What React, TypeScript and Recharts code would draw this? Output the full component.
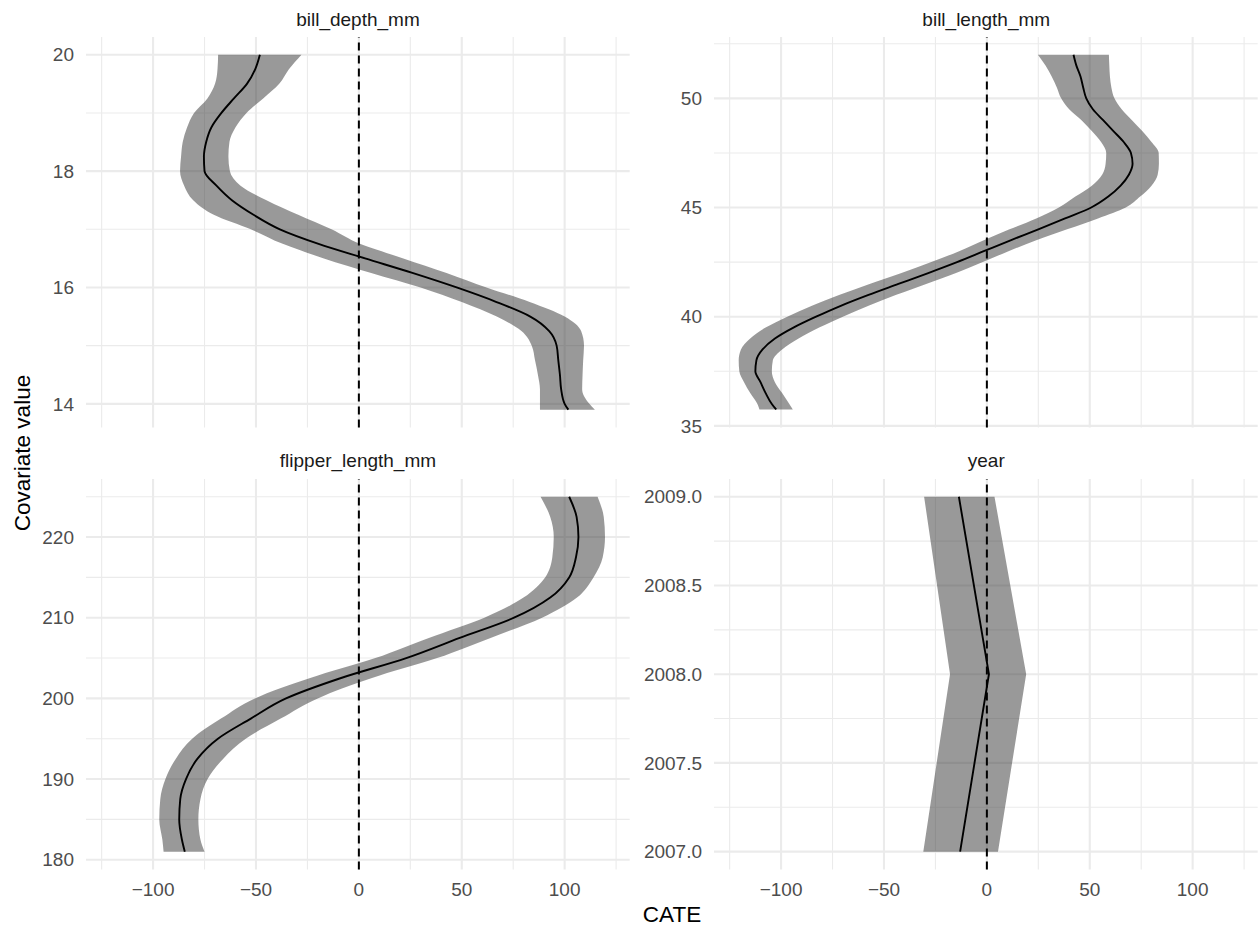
import React from "react";
import {
  ComposedChart,
  Area,
  Line,
  XAxis,
  YAxis,
  CartesianGrid,
  ReferenceLine,
} from "recharts";

const FONT = '"Liberation Sans", Arial, sans-serif';

// shared CATE axis
const cateTicks = [-100, -50, 0, 50, 100];
const cateMinor = [-125, -75, -25, 25, 75, 125];
const cateDomain: [number, number] = [-132.6, 131.6];

// bill_depth_mm
const depthY = [20.0, 19.75, 19.5, 19.25, 19.0, 18.75, 18.5, 18.25, 18.0, 17.75, 17.5, 17.25, 17.0, 16.75, 16.5, 16.25, 16.0, 15.75, 15.5, 15.25, 15.0, 14.75, 14.5, 14.25, 14.0, 13.9];
const depthMid = [-48.1, -50.4, -54.4, -60.7, -66.8, -71.7, -74.2, -75.3, -75.0, -69.2, -61.7, -51.2, -38.4, -19.6, 3, 26, 47.5, 66.9, 83.3, 92.5, 96.1, 96.9, 97.7, 98.3, 100, 101.8];
const depthLo = [-68.4, -68.7, -69.9, -73.6, -80.1, -83.5, -85.6, -86.4, -86.9, -84.9, -80.5, -70.5, -52.5, -37, -17, 6, 30, 50, 67, 79, 84, 85.6, 87, 88, 88, 88];
const depthHi = [-27.9, -34, -38.7, -46.5, -54.6, -60, -62.9, -63.4, -62.7, -57.5, -44.9, -29.5, -13.3, 0.5, 21.6, 42.6, 62, 83, 100, 108, 109.4, 109, 108.7, 108.5, 112, 114.7];
const depthTicks = [14, 16, 18, 20];
const depthMinor = [15, 17, 19];

// bill_length_mm
const lengthY = [52, 51.5, 51, 50.5, 50, 49.5, 49, 48.5, 48, 47.5, 47, 46.5, 46, 45.5, 45, 44.5, 44, 43.5, 43, 42.5, 42, 41.5, 41, 40.5, 40, 39.5, 39, 38.5, 38, 37.5, 37, 36.5, 36, 35.75];
const lengthMid = [42.1, 43.5, 45.5, 46.8, 48.3, 51.5, 56.5, 61.5, 66.5, 70, 70.8, 69, 65, 59, 50.7, 38, 25, 11.5, -1.5, -14.5, -28.5, -43, -57.5, -71, -83, -94, -103, -109, -112, -112.5, -110, -107.5, -104.5, -102.4];
const lengthLo = [24.8, 28.5, 31.5, 34, 36.1, 40, 46, 51, 55.5, 58, 57.7, 56, 51, 43, 35, 24, 11, -1.5, -13.5, -27, -41.5, -57, -71.5, -85, -97, -107.5, -115, -119.5, -120.6, -120.3, -118, -115, -111.5, -110.5];
const lengthHi = [59.3, 59.5, 59.8, 60.5, 62, 65.5, 70.5, 75.5, 80, 83.5, 83.6, 83, 80, 74.5, 67.5, 54, 39, 24, 10.5, -2, -15, -29.5, -44, -57.5, -70, -81.5, -91.5, -99.5, -104, -104.5, -103, -99.5, -96, -94.3];
const lengthTicks = [35, 40, 45, 50];
const lengthMinor = [37.5, 42.5, 47.5, 52.5];

// flipper_length_mm
const flipperY = [225, 222.5, 220, 217.5, 215, 212.5, 210, 207.5, 205, 202.5, 200, 197.5, 195, 192.5, 190, 187.5, 185, 182.5, 181];
const flipperMid = [102.2, 105.8, 106.7, 105.5, 102.2, 93, 75.4, 49, 23, -9, -35.4, -52.5, -68.5, -78.5, -84, -86.8, -87.3, -86, -84.6];
const flipperLo = [88.3, 93, 94.7, 94, 90.5, 80, 61, 34, 8, -24, -50.5, -67, -81, -89, -94, -96.5, -97, -95.5, -94.9];
const flipperHi = [116, 119, 119.6, 118.5, 114, 106, 89, 64, 38, 6, -20, -38, -55, -66, -73.5, -77, -78, -77, -75];
const flipperTicks = [180, 190, 200, 210, 220];
const flipperMinor = [185, 195, 205, 215, 225];

// year
const yearY = [2009, 2008, 2007];
const yearMid = [-13.6, 1.0, -13.0];
const yearLo = [-30.5, -17.9, -30.9];
const yearHi = [3.7, 19.1, 5.4];
const yearTicks = [2007, 2007.5, 2008, 2008.5, 2009];
const yearMinor = [2007.25, 2007.75, 2008.25, 2008.75];

function toRows(ys: number[], lo: number[], mid: number[], hi: number[]) {
  return ys.map((y, i) => ({ y, band: [lo[i], hi[i]], mid: mid[i] }));
}

const fmtMinus = (v: number) => (v < 0 ? "\u2212" + Math.abs(v) : String(v));

type PanelProps = {
  left: number;
  top: number;
  w: number;
  h: number;
  rows: { y: number; band: number[]; mid: number }[];
  yDomain: [number, number];
  yTicks: number[];
  yMinor: number[];
  yFmt?: (v: number) => string;
  showX: boolean;
  curve: "monotone" | "linear";
};

function Panel({ left, top, w, h, rows, yDomain, yTicks, yMinor, yFmt, showX, curve }: PanelProps) {
  const axisW = 100;
  const axisH = showX ? 45 : 0;
  const pad = showX ? 0 : 20; // room so edge tick labels are not clipped
  const tickStyle = { fill: "#4D4D4D", fontSize: 19, fontFamily: FONT };
  return (
    <div style={{ position: "absolute", left: left - axisW, top }}>
      <ComposedChart
        layout="vertical"
        width={w + axisW}
        height={h + axisH + pad}
        data={rows}
        margin={{ top: 0, right: 0, bottom: pad, left: 0 }}
        style={{ overflow: "visible" }}
      >
        <CartesianGrid
          stroke="#EBEBEB"
          strokeWidth={1.1}
          verticalValues={cateMinor}
          horizontalValues={yMinor}
        />
        <CartesianGrid
          stroke="#EBEBEB"
          strokeWidth={2.1}
          verticalValues={cateTicks}
          horizontalValues={yTicks}
        />
        <XAxis
          type="number"
          domain={cateDomain}
          allowDataOverflow
          ticks={cateTicks}
          interval={0}
          tickFormatter={fmtMinus}
          hide={!showX}
          height={axisH}
          axisLine={false}
          tickLine={false}
          tickSize={0}
          tickMargin={13}
          tick={tickStyle}
        />
        <YAxis
          type="number"
          dataKey="y"
          domain={yDomain}
          allowDataOverflow
          reversed
          ticks={yTicks}
          interval={0}
          tickFormatter={yFmt}
          width={axisW}
          axisLine={false}
          tickLine={false}
          tickSize={0}
          tickMargin={12}
          tick={tickStyle}
        />
        <Area
          dataKey="band"
          type={curve}
          fill="#333333"
          fillOpacity={0.5}
          stroke="none"
          isAnimationActive={false}
          activeDot={false}
        />
        <Line
          dataKey="mid"
          type={curve}
          stroke="#000000"
          strokeWidth={1.9}
          dot={false}
          activeDot={false}
          isAnimationActive={false}
        />
        <ReferenceLine x={0} stroke="#000000" strokeWidth={2} strokeDasharray="8 5" />
      </ComposedChart>
    </div>
  );
}

export default function App() {
  const W = 543.7;
  const H = 390.4;
  const leftA = 86.1;
  const leftB = 714.4;
  const topA = 37;
  const topB = 478.5;
  return (
    <div
      style={{
        position: "absolute",
        left: 0,
        top: 0,
        width: 1258,
        height: 926,
        background: "#fff",
        overflow: "hidden",
        fontFamily: FONT,
      }}
    >
      <svg width={1258} height={926} style={{ position: "absolute", left: 0, top: 0 }}>
        <g fontFamily={FONT} fontSize={19} fill="#1A1A1A" textAnchor="middle">
          <text x={leftA + W / 2} y={19} dominantBaseline="central">bill_depth_mm</text>
          <text x={leftB + W / 2} y={19} dominantBaseline="central">bill_length_mm</text>
          <text x={leftA + W / 2} y={460} dominantBaseline="central">flipper_length_mm</text>
          <text x={leftB + W / 2} y={460} dominantBaseline="central">year</text>
        </g>
        <text
          x={672}
          y={914}
          fontFamily={FONT}
          fontSize={22.5}
          textAnchor="middle"
          dominantBaseline="central"
          fill="#000"
        >
          CATE
        </text>
        <text
          x={22}
          y={453}
          fontFamily={FONT}
          fontSize={22.5}
          textAnchor="middle"
          dominantBaseline="central"
          fill="#000"
          transform="rotate(-90 22 453)"
        >
          Covariate value
        </text>
      </svg>
      <Panel
        left={leftA}
        top={topA}
        w={W}
        h={H}
        rows={toRows(depthY, depthLo, depthMid, depthHi)}
        yDomain={[13.595, 20.305]}
        yTicks={depthTicks}
        yMinor={depthMinor}
        showX={false}
        curve="monotone"
      />
      <Panel
        left={leftB}
        top={topA}
        w={W}
        h={H}
        rows={toRows(lengthY, lengthLo, lengthMid, lengthHi)}
        yDomain={[34.93, 52.81]}
        yTicks={lengthTicks}
        yMinor={lengthMinor}
        showX={false}
        curve="monotone"
      />
      <Panel
        left={leftA}
        top={topB}
        w={W}
        h={H}
        rows={toRows(flipperY, flipperLo, flipperMid, flipperHi)}
        yDomain={[178.8, 227.2]}
        yTicks={flipperTicks}
        yMinor={flipperMinor}
        showX
        curve="monotone"
      />
      <Panel
        left={leftB}
        top={topB}
        w={W}
        h={H}
        rows={toRows(yearY, yearLo, yearMid, yearHi)}
        yDomain={[2006.9, 2009.1]}
        yTicks={yearTicks}
        yMinor={yearMinor}
        yFmt={(v: number) => v.toFixed(1)}
        showX
        curve="linear"
      />
    </div>
  );
}
